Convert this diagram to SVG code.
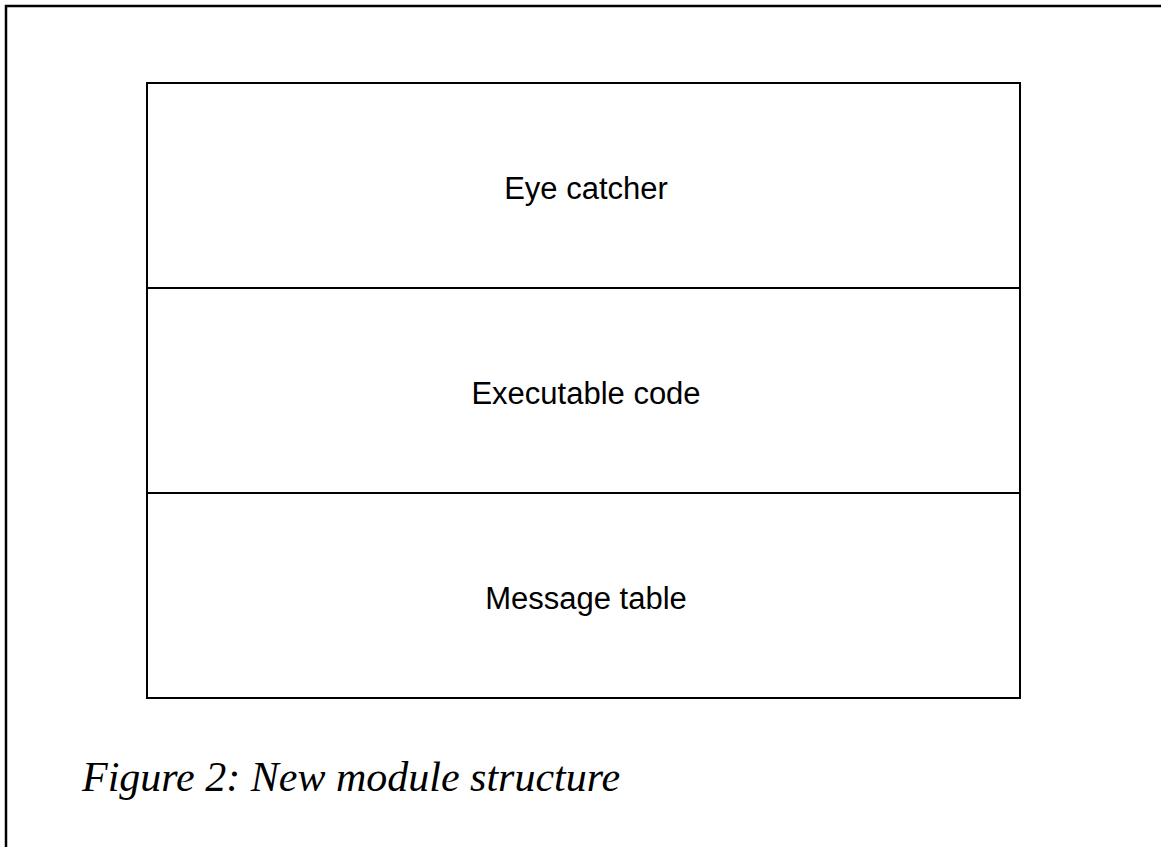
<svg xmlns="http://www.w3.org/2000/svg" width="1161" height="847" viewBox="0 0 1161 847">
<style>
.frame{fill:none;stroke:#000;stroke-width:2.5}
.box{fill:#fff;stroke:#000;stroke-width:2}
.lbl{font-family:"Liberation Sans",Arial,sans-serif;font-size:31px;fill:#000;text-anchor:middle}
.cap{font-family:"Liberation Serif","Times New Roman",serif;font-style:italic;font-size:42px;fill:#000}
</style>
<rect width="1161" height="847" fill="#fff"/>
<path class="frame" d="M6,847 V6 H1161"/>
<g id="eye-catcher">
<rect class="box" x="147" y="83" width="873" height="205"/>
<text class="lbl" x="586" y="199">Eye catcher</text>
</g>
<g id="executable-code">
<rect class="box" x="147" y="288" width="873" height="205"/>
<text class="lbl" x="586" y="404">Executable code</text>
</g>
<g id="message-table">
<rect class="box" x="147" y="493" width="873" height="205"/>
<text class="lbl" x="586" y="609">Message table</text>
</g>
<g id="connectors"></g>
<text class="cap" x="82" y="791">Figure 2: New module structure</text>
</svg>
